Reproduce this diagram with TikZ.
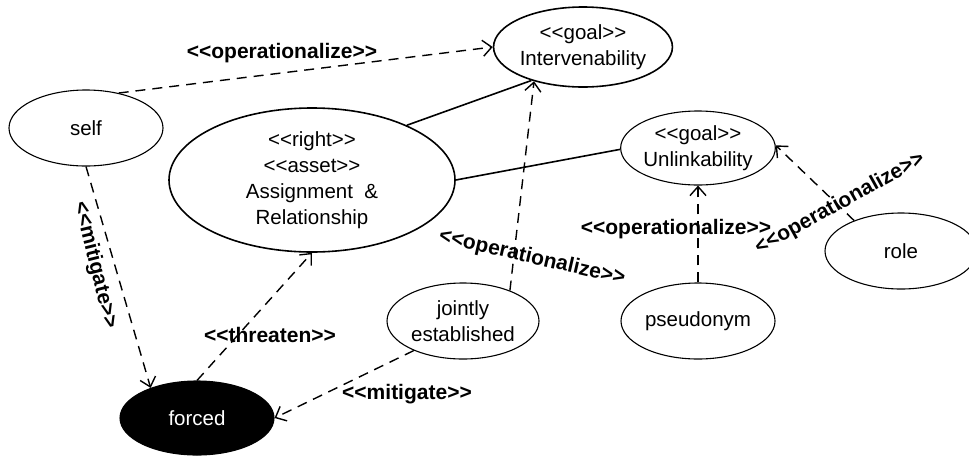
\documentclass[tikz,border=0pt]{standalone}
\usepackage{fontspec}
\setmainfont{Liberation Sans}[Ligatures=TeXOff]
\usetikzlibrary{shapes.geometric,arrows.meta}
\begin{document}
\begin{tikzpicture}[x=1pt,y=-1pt,
  usecase/.style={ellipse,draw,line width=1.1pt,inner sep=0pt,align=center,
    font=\fontsize{20.5}{26}\selectfont},
  heavy/.style={line width=1.6pt},
  stereo/.style={inner sep=0pt,font=\fontsize{21}{24}\selectfont\bfseries},
  dep/.style={draw,line width=1.4pt,dash pattern=on 10pt off 7pt,
    -{Straight Barb[length=9pt,width=16pt]}},
  assoc/.style={draw,line width=1.6pt}]
\useasboundingbox (0,0) rectangle (969,456);

% use cases
\node[usecase,minimum width=154pt,minimum height=76pt] (self) at (86,128) {self};
\node[usecase,heavy,minimum width=286pt,minimum height=144pt] (asg) at (312,180)
  {<<right>>\\<<asset>>\\Assignment\ \ \&\\Relationship};
\node[usecase,heavy,minimum width=160pt,minimum height=80pt] (interv) at (583,47)
  {<<goal>>\\Intervenability};
\node[usecase,minimum width=154pt,minimum height=74pt] (unlink) at (698,148)
  {<<goal>>\\Unlinkability};
\node[usecase,minimum width=152pt,minimum height=76pt] (joint) at (463,321)
  {jointly\\established};
\node[usecase,minimum width=154pt,minimum height=76pt] (pseudo) at (698,321) {pseudonym};
\node[usecase,minimum width=152pt,minimum height=76pt] (role) at (901,251) {role};
\node[usecase,fill=black,text=white,minimum width=154pt,minimum height=74pt] (forced) at (197,418) {forced};

% stereotype labels
\node[stereo] (l1) at (282,53) {<<operationalize>>};
\node[stereo,rotate=-13] (l2) at (532,258) {<<operationalize>>};
\node[stereo] (l3) at (676,229) {<<operationalize>>};
\node[stereo,rotate=29] (l4) at (840,204) {<<operationalize>>};
\node[stereo,rotate=-76] (l5) at (95,265) {<<mitigate>>};
\node[stereo] (l6) at (270,335) {<<threaten>>};
\node[stereo] (l7) at (407,394) {<<mitigate>>};

% associations
\draw[assoc] (asg.30.6) -- (interv.213.4);
\draw[assoc] (asg.0) -- (unlink.181);

% dependencies
\draw[dep] (self.47) -- (interv.180);
\draw[dep] (joint.33) -- (interv.215);
\draw[dep] (pseudo.90) -- (unlink.270);
\draw[dep] (role.147.7) -- (unlink.2);
\draw[dep] (self.270) -- (forced.147.4);
\draw[dep] (forced.90) -- (asg.270);
\draw[dep] (joint.211.8) -- (forced.0);
\end{tikzpicture}
\end{document}
